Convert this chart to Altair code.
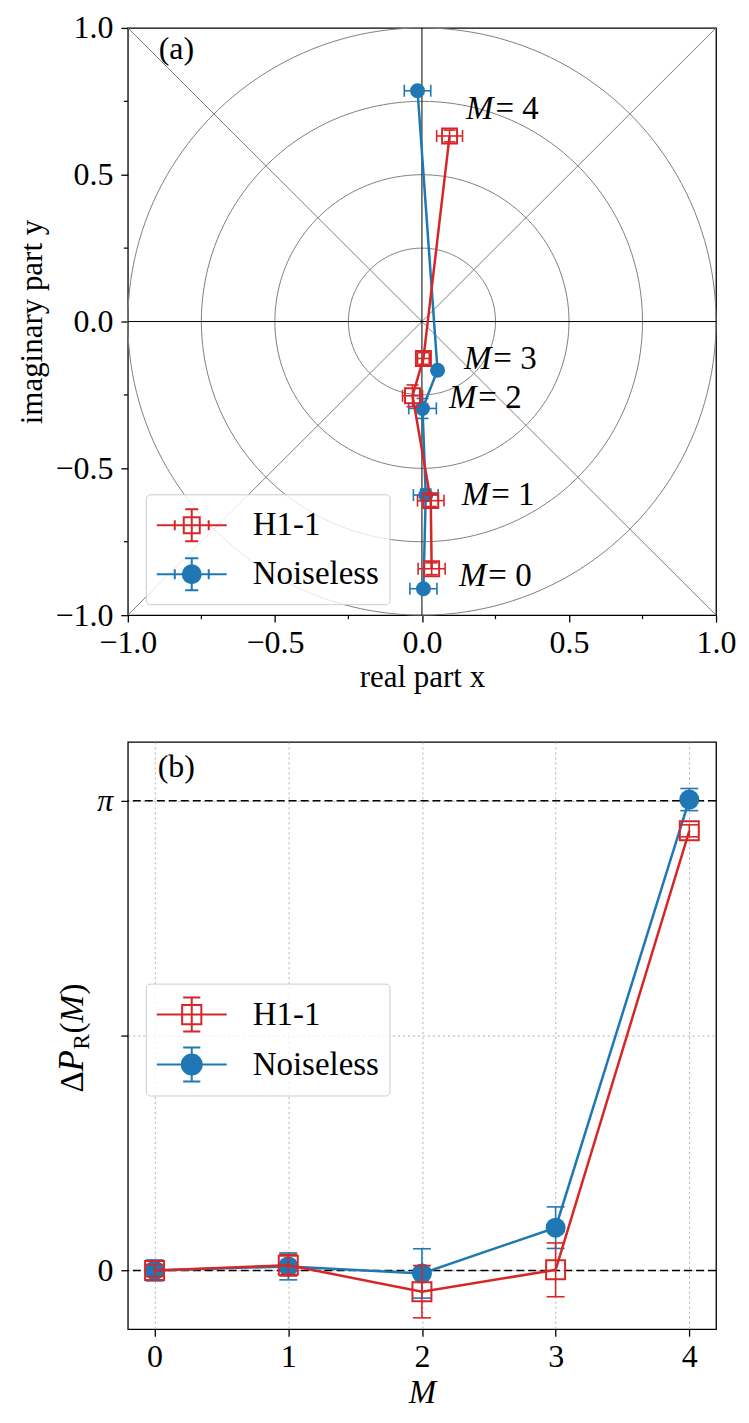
import math
import altair as alt
import pandas as pd

RED = "#d62728"
BLUE = "#1f77b4"
GRAY = "#808080"
FONT = "Liberation Serif"
FS = 31       # axis titles
FS_TICK = 32  # tick labels
FS_BIG = 33   # legend labels and in-plot annotations
W, H = 589, 588

series_names = ["H1-1", "Noiseless"]
M_values = [0, 1, 2, 3, 4]

# ---- panel (a): complex-plane positions (real x, imaginary y) ----
h1_re = [0.033, 0.030, -0.032, 0.005, 0.094]
h1_im = [-0.842, -0.610, -0.253, -0.126, 0.632]
h1_re_err = [0.046, 0.045, 0.034, 0.020, 0.044]
h1_im_err = [0.020, 0.020, 0.037, 0.020, 0.020]
nl_re = [0.005, 0.013, 0.002, 0.053, -0.015]
nl_im = [-0.910, -0.591, -0.296, -0.166, 0.786]
nl_re_err = [0.046, 0.042, 0.047, 0.010, 0.045]
nl_im_err = [0.010, 0.020, 0.034, 0.010, 0.010]

label_re = [0.219, 0.229, 0.185, 0.236, 0.243]
label_im = [-0.867, -0.590, -0.261, -0.128, 0.724]

ring_radius = [0.25, 0.5, 0.75, 1.0]
diag_x = [-1, -1]
diag_y = [-1, 1]
diag_x2 = [1, 1]
diag_y2 = [1, -1]
ticks_a = [-1.0, -0.5, 0.0, 0.5, 1.0]
minor_ticks_a = [-0.75, -0.25, 0.25, 0.75]

# ---- panel (b): phase difference vs M ----
h1_phase = [0.0, 0.035, -0.142, 0.004, 2.94]
h1_phase_err = [0.04, 0.072, 0.175, 0.18, 0.04]
nl_phase = [0.0, 0.027, -0.020, 0.286, 3.149]
nl_phase_err = [0.07, 0.09, 0.165, 0.139, 0.074]
ref_phase = [0.0, math.pi]
ticks_b_y = [0.0, math.pi / 2, math.pi]
ticks_b_x = [0, 1, 2, 3, 4]


def frame_a(re, im, rerr, ierr):
    df = pd.DataFrame({"M": M_values, "x": re, "y": im, "xerr": rerr, "yerr": ierr})
    df["xlo"] = df["x"] - df["xerr"]
    df["xhi"] = df["x"] + df["xerr"]
    df["ylo"] = df["y"] - df["yerr"]
    df["yhi"] = df["y"] + df["yerr"]
    return df


def frame_b(ph, err):
    df = pd.DataFrame({"M": M_values, "y": ph, "err": err})
    df["ylo"] = df["y"] - df["err"]
    df["yhi"] = df["y"] + df["err"]
    return df


df_h1_a = frame_a(h1_re, h1_im, h1_re_err, h1_im_err)
df_nl_a = frame_a(nl_re, nl_im, nl_re_err, nl_im_err)
df_h1_b = frame_b(h1_phase, h1_phase_err)
df_nl_b = frame_b(nl_phase, nl_phase_err)

# ---------------- panel (a) ----------------
xs_a = alt.Scale(domain=[-1, 1], nice=False, zero=False)
ys_a = alt.Scale(domain=[-1, 1], nice=False, zero=False)
ax_xa = alt.Axis(values=ticks_a, format=".1f", title="real part x", grid=False,
                 tickSize=7, labelPadding=5, labelFlush=False, labelOverlap=False,
                 titleY=62, titleBaseline="middle")
ax_ya = alt.Axis(values=ticks_a, format=".1f", title="imaginary part y", grid=False,
                 tickSize=7, labelPadding=8, labelFlush=False, labelOverlap=False,
                 titleX=-95, titleY=H / 2, titleAngle=270, titleBaseline="middle")


def XA(f):
    return alt.X(f, type="quantitative", scale=xs_a, axis=ax_xa)


def YA(f):
    return alt.Y(f, type="quantitative", scale=ys_a, axis=ax_ya)


# reference rings |z| = r (polar grid), traced through the x/y scales
ring_rows = []
for r in ring_radius:
    for k in range(0, 361, 2):
        t = math.radians(k)
        ring_rows.append({"r": r, "k": k, "cx": r * math.cos(t), "cy": r * math.sin(t)})
rings = alt.Chart(pd.DataFrame(ring_rows)).mark_line(color=GRAY, strokeWidth=1).encode(
    x=XA("cx"), y=YA("cy"), detail="r:N", order="k:Q")

diags = alt.Chart(pd.DataFrame({"x": diag_x, "y": diag_y, "x2": diag_x2, "y2": diag_y2})).mark_rule(
    color=GRAY, strokeWidth=1
).encode(x=XA("x"), y=YA("y"), x2="x2:Q", y2="y2:Q")

zero_v = alt.Chart(pd.DataFrame({"v": [0.0]})).mark_rule(color="black", strokeWidth=1).encode(x=XA("v"))
zero_h = alt.Chart(pd.DataFrame({"v": [0.0]})).mark_rule(color="black", strokeWidth=1).encode(y=YA("v"))

minor_df = pd.DataFrame({"v": minor_ticks_a})
minor_x = alt.Chart(minor_df).mark_rule(color="black", strokeWidth=1.2).encode(
    x=XA("v"), y=alt.value(H), y2=alt.value(H + 4))
minor_y = alt.Chart(minor_df).mark_rule(color="black", strokeWidth=1.2).encode(
    y=YA("v"), x=alt.value(0), x2=alt.value(-4))


def series_a(df, color, shape, filled):
    base = alt.Chart(df)
    line = base.mark_line(color=color, strokeWidth=2.5).encode(x=XA("x"), y=YA("y"), order="M:Q")
    xbar = base.mark_rule(color=color, strokeWidth=1.6).encode(x=XA("xlo"), x2="xhi:Q", y=YA("y"))
    xcap = base.transform_fold(["xlo", "xhi"], as_=["k", "xc"]).mark_tick(
        orient="vertical", size=12, thickness=1.6, color=color, opacity=1
    ).encode(x=XA("xc"), y=YA("y"))
    ybar = base.mark_rule(color=color, strokeWidth=1.6).encode(y=YA("ylo"), y2="yhi:Q", x=XA("x"))
    ycap = base.transform_fold(["ylo", "yhi"], as_=["k", "yc"]).mark_tick(
        orient="horizontal", size=12, thickness=1.6, color=color, opacity=1
    ).encode(x=XA("x"), y=YA("yc"))
    pts = base.mark_point(shape=shape, filled=filled, size=225, color=color,
                          strokeWidth=2, opacity=1).encode(x=XA("x"), y=YA("y"))
    return [line, xbar, xcap, ybar, ycap, pts]


lab_df = pd.DataFrame({"M": M_values, "lx": label_re, "ly": label_im})
lab_m = alt.Chart(lab_df).mark_text(font=FONT, fontSize=FS_BIG, fontStyle="italic", align="right",
                                    baseline="middle", color="black", text="M").encode(
    x=XA("lx"), y=YA("ly"))
lab_eq = alt.Chart(lab_df).transform_calculate(t="'= ' + datum.M").mark_text(
    font=FONT, fontSize=FS_BIG, align="left", baseline="middle", color="black", dx=2).encode(
    x=XA("lx"), y=YA("ly"), text="t:N")

tag_a = alt.Chart(pd.DataFrame({"t": ["(a)"]})).mark_text(
    font=FONT, fontSize=FS_TICK, align="center", baseline="middle", color="black").encode(
    x=alt.X(datum=-0.835, type="quantitative", scale=xs_a, axis=ax_xa),
    y=alt.Y(datum=0.929, type="quantitative", scale=ys_a, axis=ax_ya), text="t:N")


def legend_layer(paths, lx, ly):
    leg = alt.Legend(title=None, orient="none", legendX=lx, legendY=ly, symbolSize=1600,
                     symbolStrokeWidth=2, labelFont=FONT, labelFontSize=FS_BIG, labelColor="black",
                     padding=10, rowPadding=8, symbolOffset=15, labelOffset=40,
                     strokeColor="#cccccc", fillColor="rgba(255,255,255,0.8)", cornerRadius=4,
                     labelBaseline="middle")
    dom = series_names
    return alt.Chart(pd.DataFrame({"series": series_names})).mark_point(
        filled=True, opacity=1
    ).encode(
        shape=alt.Shape("series:N", scale=alt.Scale(domain=dom, range=paths), legend=leg),
        fill=alt.Fill("series:N", scale=alt.Scale(domain=dom, range=["transparent", BLUE]), legend=leg),
        stroke=alt.Stroke("series:N", scale=alt.Scale(domain=dom, range=[RED, BLUE]), legend=leg),
    ).transform_filter("false")


common_a = "M-1.75,0L1.75,0M-0.85,-0.25L-0.85,0.25M0.85,-0.25L0.85,0.25M0,-0.8L0,0.8M-0.33,-0.8L0.33,-0.8M-0.33,0.8L0.33,0.8"
path_red_a = common_a + "M-0.4,-0.4L0.4,-0.4L0.4,0.4L-0.4,0.4Z"
path_blue_a = common_a + "M-0.45,0A0.45,0.45,0,1,0,0.45,0A0.45,0.45,0,1,0,-0.45,0Z"

panel_a = alt.layer(
    rings, diags, zero_v, zero_h, minor_x, minor_y,
    *series_a(df_nl_a, BLUE, "circle", True),
    *series_a(df_h1_a, RED, "square", False),
    lab_m, lab_eq, tag_a,
    legend_layer([path_red_a, path_blue_a], 18, 467),
).properties(width=W, height=H)

# ---------------- panel (b) ----------------
xs_b = alt.Scale(domain=[-0.2, 4.2], nice=False, zero=False)
ys_b = alt.Scale(domain=[-math.pi / 8, 9 * math.pi / 8], nice=False, zero=False)
ax_xb = alt.Axis(values=ticks_b_x, format="d", title="M", titleFontStyle="italic",
                 titleFontSize=FS_BIG, grid=True,
                 gridDash=[2, 3], gridColor="#b0b0b0", gridWidth=1, tickSize=7, labelPadding=5,
                 labelFlush=False, titleY=63, titleBaseline="middle")
ax_yb = alt.Axis(values=ticks_b_y, title=None, grid=True, gridDash=[2, 3], gridColor="#b0b0b0",
                 gridWidth=1, tickSize=7, labelPadding=8, labelFlush=False,
                 labelExpr="datum.value < 0.1 ? '0' : (datum.value > 3 ? 'π' : '')",
                 labelFontStyle={"condition": {"test": "datum.value > 3", "value": "italic"},
                                 "value": "normal"})


def XB(f):
    return alt.X(f, type="quantitative", scale=xs_b, axis=ax_xb)


def YB(f):
    return alt.Y(f, type="quantitative", scale=ys_b, axis=ax_yb)


ref_lines = alt.Chart(pd.DataFrame({"v": ref_phase})).mark_rule(
    color="black", strokeWidth=1.5, strokeDash=[8, 4]).encode(y=YB("v"))


def series_b(df, color, shape, filled, size):
    base = alt.Chart(df)
    line = base.mark_line(color=color, strokeWidth=2.5).encode(x=XB("M"), y=YB("y"), order="M:Q")
    bar = base.mark_rule(color=color, strokeWidth=1.6).encode(x=XB("M"), y=YB("ylo"), y2="yhi:Q")
    cap = base.transform_fold(["ylo", "yhi"], as_=["k", "yc"]).mark_tick(
        orient="horizontal", size=18, thickness=1.6, color=color, opacity=1
    ).encode(x=XB("M"), y=YB("yc"))
    pts = base.mark_point(shape=shape, filled=filled, size=size, color=color,
                          strokeWidth=2, opacity=1).encode(x=XB("M"), y=YB("y"))
    return [line, bar, cap, pts]


tag_b = alt.Chart(pd.DataFrame({"t": ["(b)"]})).mark_text(
    font=FONT, fontSize=FS_TICK, align="center", baseline="middle", color="black").encode(
    x=alt.X(datum=0.163, type="quantitative", scale=xs_b, axis=ax_xb),
    y=alt.Y(datum=3.366, type="quantitative", scale=ys_b, axis=ax_yb), text="t:N")

one = pd.DataFrame({"k": [0]})


def ytitle_piece(txt, py, px=-45, size=FS_BIG, style="normal"):
    return alt.Chart(one).mark_text(text=txt, font=FONT, fontSize=size, fontStyle=style,
                                    angle=270, align="left", baseline="alphabetic",
                                    color="black").encode(x=alt.value(px), y=alt.value(py))


ytitle_b = [
    ytitle_piece("Δ", 351),
    ytitle_piece("P", 330, size=35, style="italic"),
    ytitle_piece("R", 308, px=-39, size=23),
    ytitle_piece("(", 292),
    ytitle_piece("M", 281, style="italic"),
    ytitle_piece(")", 253),
]

common_b = "M-1.75,0L1.75,0M0,-0.85L0,0.85M-0.43,-0.85L0.43,-0.85M-0.43,0.85L0.43,0.85"
path_red_b = common_b + "M-0.48,-0.48L0.48,-0.48L0.48,0.48L-0.48,0.48Z"
path_blue_b = common_b + "M-0.5,0A0.5,0.5,0,1,0,0.5,0A0.5,0.5,0,1,0,-0.5,0Z"

panel_b = alt.layer(
    ref_lines,
    *series_b(df_nl_b, BLUE, "circle", True, 400),
    *series_b(df_h1_b, RED, "square", False, 361),
    tag_b, *ytitle_b,
    legend_layer([path_red_b, path_blue_b], 18, 242),
).properties(width=W, height=H)

chart = alt.vconcat(panel_a, panel_b, spacing=48).resolve_scale(
    x="independent", y="independent", shape="independent", fill="independent", stroke="independent"
).resolve_legend(
    shape="independent", fill="independent", stroke="independent"
).properties(
    padding={"left": 8, "top": 2, "right": 4, "bottom": 4}
).configure(font=FONT).configure_axis(
    labelFont=FONT, titleFont=FONT, labelFontSize=FS_TICK, titleFontSize=FS, labelColor="black",
    titleColor="black", tickColor="black", tickWidth=1.3, titleFontWeight="normal", domain=False
).configure_view(stroke="black", strokeWidth=1.3)

chart.save("out.html", embed_options={"renderer": "svg", "actions": False})
